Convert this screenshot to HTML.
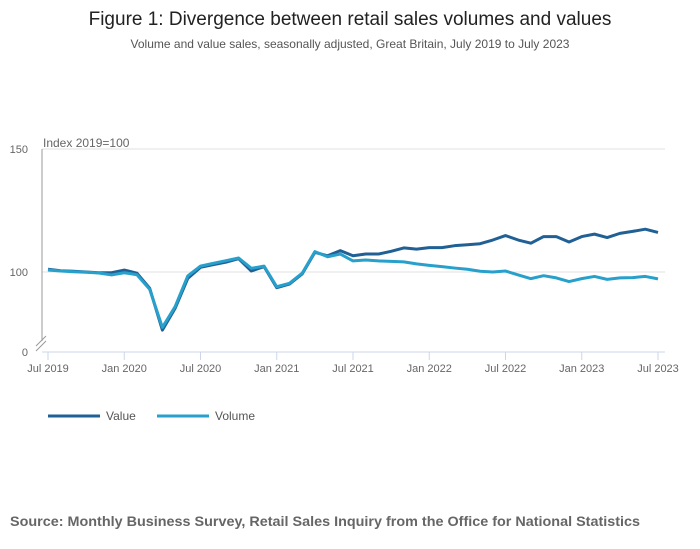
<!DOCTYPE html>
<html><head><meta charset="utf-8"><style>
body{margin:0;background:#fff;font-family:"Liberation Sans",sans-serif;}
#wrap{position:relative;width:700px;height:549px;overflow:hidden}
</style></head><body><div id="wrap">
<svg id="chart" width="700" height="549" font-family="Liberation Sans, sans-serif">
<text x="350" y="25" text-anchor="middle" font-size="19" fill="#222">Figure 1: Divergence between retail sales volumes and values</text>
<text x="350" y="48" text-anchor="middle" font-size="12" fill="#555">Volume and value sales, seasonally adjusted, Great Britain, July 2019 to July 2023</text>
<text x="43" y="147" font-size="12" fill="#666">Index 2019=100</text>
<g id="grid"></g><g id="series"></g><g id="xaxis"></g>
<line x1="42" y1="149" x2="42" y2="341" stroke="#999" stroke-width="1"/>
<g stroke="#999" stroke-width="1"><line x1="36" y1="346" x2="46" y2="336"/><line x1="36" y1="351" x2="46" y2="341"/></g>
<text x="28" y="356" text-anchor="end" font-size="11" fill="#666">0</text>
<g><line x1="48" y1="416" x2="100" y2="416" stroke="#206095" stroke-width="3"/><text x="106" y="420" font-size="12" fill="#555">Value</text></g>
<g><line x1="157" y1="416" x2="209" y2="416" stroke="#27a0cc" stroke-width="3"/><text x="215" y="420" font-size="12" fill="#555">Volume</text></g>
<text x="10" y="526" font-size="14" font-weight="bold" fill="#666" textLength="630" lengthAdjust="spacingAndGlyphs">Source: Monthly Business Survey, Retail Sales Inquiry from the Office for National Statistics</text>
</svg>
<script>
const months=49;
const xTickLabels=["Jul 2019","Jan 2020","Jul 2020","Jan 2021","Jul 2021","Jan 2022","Jul 2022","Jan 2023","Jul 2023"];
const yTicks=[100,150];
const valueSeries=[101.1,100.5,100.3,100,99.7,99.7,100.8,99.5,93.4,76.4,85.2,97.4,101.9,103,104,105.4,100.4,102.2,93.6,95.1,99.2,108,106.6,108.7,106.6,107.3,107.3,108.4,109.8,109.3,109.9,109.9,110.7,111.1,111.5,113,114.8,113,111.7,114.4,114.4,112.2,114.4,115.4,114,115.7,116.5,117.4,116.1];
const volumeSeries=[100.8,100.4,100.1,99.9,99.6,98.8,99.7,98.9,93,77.5,85.9,98.4,102.4,103.5,104.6,105.7,101.5,102.4,94,95.4,99.5,108.3,106.2,107.3,104.5,104.9,104.5,104.3,104.1,103.3,102.7,102.2,101.6,101.1,100.3,100,100.4,98.8,97.3,98.5,97.6,96.1,97.3,98.2,97,97.6,97.7,98.2,97.2];
const NS="http://www.w3.org/2000/svg";
const x=i=>48+i*(658-48)/48;
const y=v=>272-(v-100)*2.46;
const grid=document.getElementById('grid');
yTicks.forEach(t=>{
 const l=document.createElementNS(NS,'line');
 
 
 l.setAttribute('x1',42);l.setAttribute('x2',665);l.setAttribute('y1',y(t));l.setAttribute('y2',y(t));
 l.setAttribute('stroke','#e0e0e0');grid.appendChild(l);
 const tx=document.createElementNS(NS,'text');
 
 
 tx.setAttribute('x',28);tx.setAttribute('y',y(t)+4);tx.setAttribute('text-anchor','end');tx.setAttribute('font-size','11');tx.setAttribute('fill','#666');
 tx.textContent=t;grid.appendChild(tx);
});
const xa=document.getElementById('xaxis');
const base=document.createElementNS(NS,'line');


base.setAttribute('x1',42);base.setAttribute('x2',665);base.setAttribute('y1',352);base.setAttribute('y2',352);base.setAttribute('stroke','#ccd6eb');
xa.appendChild(base);
xTickLabels.forEach((lab,k)=>{
 const xx=x(k*6);
 const t=document.createElementNS(NS,'line');
 
 
 t.setAttribute('x1',xx);t.setAttribute('x2',xx);t.setAttribute('y1',352);t.setAttribute('y2',360);t.setAttribute('stroke','#ccd6eb');
 xa.appendChild(t);
 const tx=document.createElementNS(NS,'text');
 
 
 tx.setAttribute('x',xx);tx.setAttribute('y',372);tx.setAttribute('text-anchor','middle');tx.setAttribute('font-size','11');tx.setAttribute('fill','#666');
 tx.textContent=lab;xa.appendChild(tx);
});
const sg=document.getElementById('series');
function draw(arr,color,name){
 const p=document.createElementNS(NS,'polyline');
 
 
 p.setAttribute('points',arr.map((v,i)=>x(i)+','+y(v)).join(' '));
 p.setAttribute('fill','none');p.setAttribute('stroke',color);p.setAttribute('stroke-width','3');p.setAttribute('stroke-linejoin','round');
 sg.appendChild(p);
}
draw(valueSeries,'#206095','value-line');
draw(volumeSeries,'#27a0cc','volume-line');
</script>
</div></body></html>
